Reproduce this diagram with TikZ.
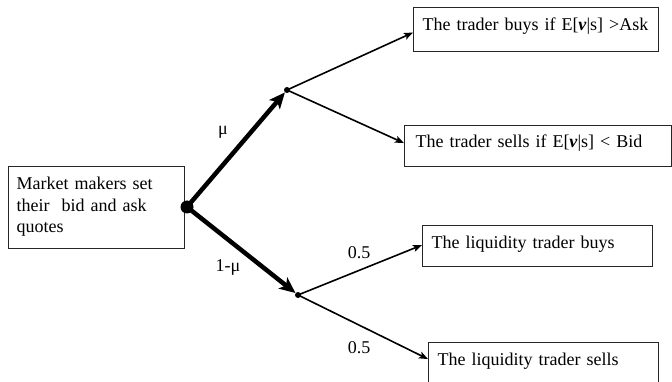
\documentclass[tikz,border=0pt]{standalone}
\usepackage{fontspec}
\setmainfont{Liberation Serif}
\usetikzlibrary{arrows.meta}
\begin{document}
\begin{tikzpicture}[x=1pt,y=-1pt,
  every node/.style={font=\fontsize{18}{21.5}\selectfont},
  box/.style={draw=black!85, line width=1.1pt, rectangle, anchor=north west,
    inner xsep=9pt, inner ysep=0pt, align=left},
  bigdot/.style={circle, fill=black, inner sep=0pt, minimum size=13pt},
  smalldot/.style={circle, fill=black, inner sep=0pt, minimum size=6pt},
  thickarrow/.style={line width=4.5pt, -{Stealth[length=16pt,width=14pt,inset=4pt]}},
  thinarrow/.style={line width=1.6pt, -{Stealth[length=9pt,width=7pt,inset=2pt]}},
  lbl/.style={inner sep=0pt}
]
\useasboundingbox (0,0) rectangle (672,382);

\node[box, text width=160pt, inner xsep=8pt, text height=23pt, text depth=59pt] (b0) at (8,166)
  {Market makers set\\their~ bid and ask\\quotes};
\node[box, text width=227pt, text height=23pt, text depth=21pt] (b1) at (413,7)
  {\mbox{The trader buys if E[\textbf{\textit{v}}|s] >Ask}};
\node[box, text width=245pt, inner xsep=11pt, text height=22pt, text depth=19pt] (b2) at (404,125)
  {\mbox{The trader sells if E[\textbf{\textit{v}}|s] < Bid}};
\node[box, text width=212pt, text height=23pt, text depth=18pt] (b3) at (422,225)
  {The liquidity trader buys};
\node[box, text width=212pt, text height=23pt, text depth=20pt] (b4) at (428,342)
  {The liquidity trader sells};

\node[bigdot] (o) at (187,207) {};
\node[smalldot] (u) at (287,90) {};
\node[smalldot] (l) at (298,295) {};

\draw[thickarrow] (o.center) -- (u);
\draw[thickarrow] (o.center) -- (l);
\draw[thinarrow] (u.center) -- ([yshift=-3pt]b1.west);
\draw[thinarrow] (u.center) -- ([yshift=3pt]b2.west);
\draw[thinarrow] (l.center) -- ([yshift=1pt]b3.west);
\draw[thinarrow] (l.center) -- ([yshift=5pt]b4.west);

\node[lbl] (mu) at (223,132) {μ};
\node[lbl] (omu) at (228,267) {1-μ};
\node[lbl] (p1) at (359,253) {0.5};
\node[lbl] (p2) at (359,348) {0.5};
\end{tikzpicture}
\end{document}
